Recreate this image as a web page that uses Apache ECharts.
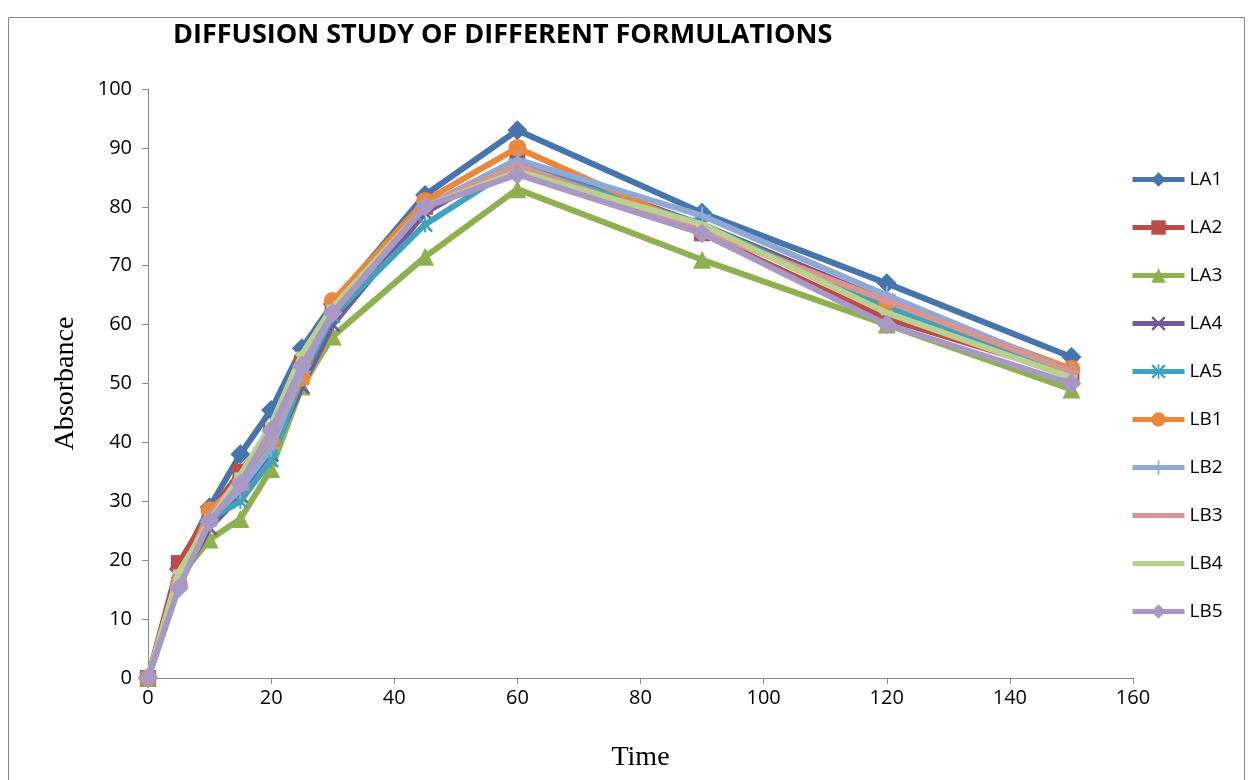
<!DOCTYPE html>
<html><head><meta charset="utf-8">
<script src="https://cdn.jsdelivr.net/npm/echarts@6/dist/echarts.min.js"></script>
<style>html,body{margin:0;padding:0;background:#fff}#c{width:1253px;height:780px}</style>
</head><body><div id="c"></div>
<script>
const times = [0,5,10,15,20,25,30,45,60,90,120,150];
const seriesNames = ['LA1','LA2','LA3','LA4','LA5','LB1','LB2','LB3','LB4','LB5'];
const LA1 = [0,18.5,29,38,45.5,56,63.5,82,93,79,67,54.5];
const LA2 = [0,19.5,28,35,42,53.5,63,80,88,75.5,61,51.5];
const LA3 = [0,17,23.5,27,35.5,49.5,58,71.5,83,71,60,49];
const LA4 = [0,16,25.5,31,38,49.5,60,79,88,77,64,51];
const LA5 = [0,16,27,30,37,51,61.5,77,87,77,63,51];
const LB1 = [0,16,28.5,33,40,51,64,81,90,76,64,52.5];
const LB2 = [0,16,27,32,39,52,62,80,88,78.5,65,52];
const LB3 = [0,17,27.5,34,41,53,62,80,87,76,64,52];
const LB4 = [0,18,26.5,34.5,43,55,63,80,86,77,62,51];
const LB5 = [0,15.3,26.5,33,42,53,62,80,85.5,75.5,60,50];
const allData = [LA1,LA2,LA3,LA4,LA5,LB1,LB2,LB3,LB4,LB5];
const colors = ['#4674AE','#BE4B48','#8FB04E','#73589A','#3FA3BE','#EA873A','#8EA9D6','#D79592','#B9D08F','#A899C4'];
const X = 'path://M0,1.2 L1.2,0 L5,3.8 L8.8,0 L10,1.2 L6.2,5 L10,8.8 L8.8,10 L5,6.2 L1.2,10 L0,8.8 L3.8,5 Z';
const STAR = 'path://M0,1.2 L1.2,0 L4.4,3.2 L4.4,0 L5.6,0 L5.6,3.2 L8.8,0 L10,1.2 L6.2,5 L10,8.8 L8.8,10 L5.6,6.8 L5.6,10 L4.4,10 L4.4,6.8 L1.2,10 L0,8.8 L3.8,5 Z';
const PLUS = 'path://M4.4,0 H5.6 V4.4 H10 V5.6 H5.6 V10 H4.4 V5.6 H0 V4.4 H4.4 Z';
const DASH = 'path://M0,0 H10 V4 H0 Z';
const BAR = 'path://M0,0 H52 V5 H0 Z';
const symbols = ['diamond','rect','triangle',X,STAR,'circle',PLUS,DASH,DASH,'diamond'];
const symSizes = [20,16,18,16,16,18,18,[12,5],[12,5],20];

const chart = echarts.init(document.getElementById('c'));
chart.setOption({
  backgroundColor:'#fff',
  animation:false,
  title:{text:'DIFFUSION STUDY OF DIFFERENT FORMULATIONS',left:168,top:17,
    textStyle:{fontFamily:'Open Sans',fontWeight:'bold',fontSize:27,color:'#000'}},
  graphic:[{type:'rect',shape:{x:8.5,y:17.5,width:1236,height:780},style:{fill:'none',stroke:'#888',lineWidth:1},silent:true}],
  grid:{left:148,right:120,top:89,bottom:102},
  legend:{orient:'vertical',left:1125,top:165,itemWidth:52,itemHeight:18,itemGap:29,
    lineStyle:{width:5},symbolKeepAspect:true,
    textStyle:{fontFamily:'Open Sans',fontSize:19,color:'#000'},
    data:seriesNames.map((n,i)=> (symbols[i]===DASH ? {name:n,icon:BAR} : {name:n}))},
  xAxis:{type:'value',min:0,max:160,interval:20,
    name:'Time',nameLocation:'middle',nameGap:66,
    nameTextStyle:{fontFamily:'Liberation Serif',fontSize:28,color:'#000'},
    axisLine:{lineStyle:{color:'#888',width:1}},
    axisTick:{show:true,inside:false,length:6,lineStyle:{color:'#888'}},
    axisLabel:{fontFamily:'Open Sans',fontSize:20,color:'#000',margin:10},
    splitLine:{show:false}},
  yAxis:{type:'value',min:0,max:100,interval:10,
    name:'Absorbance',nameLocation:'middle',nameGap:68,
    nameTextStyle:{fontFamily:'Liberation Serif',fontSize:28,color:'#000'},
    axisLine:{show:true,lineStyle:{color:'#888',width:1}},
    axisTick:{show:true,inside:false,length:6,lineStyle:{color:'#888'}},
    axisLabel:{fontFamily:'Open Sans',fontSize:20,color:'#000',margin:16},
    splitLine:{show:false}},
  series: seriesNames.map((n,i)=>({
    name:n,type:'line',
    data: times.map((t,j)=>[t,allData[i][j]]),
    symbol:symbols[i],symbolSize:symSizes[i],showSymbol:true,
    itemStyle:{color:colors[i]},
    lineStyle:{color:colors[i],width:6},
    z: 2+i
  }))
});
</script></body></html>
